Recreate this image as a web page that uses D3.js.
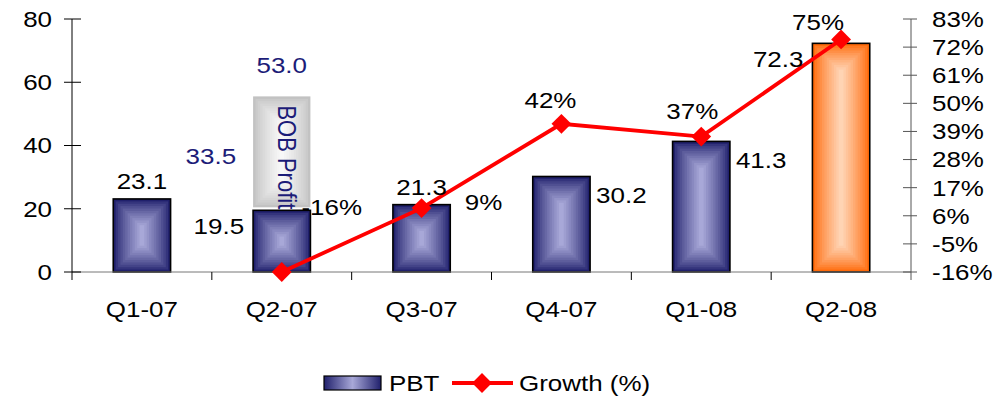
<!DOCTYPE html>
<html>
<head>
<meta charset="utf-8">
<script src="https://cdn.jsdelivr.net/npm/d3@7"></script>
<style>
  body { margin: 0; background: #fff; }
  text { font-family: "Liberation Sans", Arial, sans-serif; }
</style>
</head>
<body>
<svg id="chart"></svg>
<script>
// data
const categories = ['Q1-07', 'Q2-07', 'Q3-07', 'Q4-07', 'Q1-08', 'Q2-08'];
const pbt = [23.1, 19.5, 21.3, 30.2, 41.3, 72.3];
const growth = [null, -16, 9, 42, 37, 75];
const bobIndex = 1;
const bobProfit = 33.5;
const bobTotal = 53.0;
const leftTicks = [0, 20, 40, 60, 80];
const rightTicks = [-16, -5, 6, 17, 28, 39, 50, 61, 72, 83];

// label placement (layout only)
const pbtLabelPos = ['top', 'left', 'top', 'right', 'right', 'left'];
const growthLabelOffset = [null, [50, -65], [62, -6], [-11, -24], [-9, -25], [-23, -17]];

const W = 1003, H = 400;
const mLeft = 72, mRight = 911, mTop = 19, base = 272;
const stretch = 1.18;   // the source picture is a bit wide, text included

const svg = d3.select('#chart').attr('width', W).attr('height', H);
const defs = svg.append('defs');

const x = d3.scaleBand().domain(categories).range([mLeft, mRight]);
const yL = d3.scaleLinear().domain([0, 80]).range([base, mTop]);
const yR = d3.scaleLinear().domain([-16, 83]).range([base, mTop]);
const barW = x.bandwidth() * 0.41;

function label(px, py, str, anchor, fill) {
    return svg.append('text')
        .attr('transform', `translate(${px},${py}) scale(${stretch},1)`)
        .attr('dy', '0.36em')
        .attr('text-anchor', anchor || 'start')
        .attr('font-size', 22)
        .attr('fill', fill || '#000')
        .text(str);
}

// rectangular "from centre" gradient built from nested rects
function boxFill(g, bx, by, bw, bh, edge, centre, steps) {
    const col = d3.interpolateRgb(edge, centre);
    const half = Math.min(bw, bh) / 2;
    for (let i = 0; i < steps; i++) {
        const d = half * i / steps;
        g.append('rect')
            .attr('x', bx + d).attr('y', by + d)
            .attr('width', Math.max(0, bw - 2 * d))
            .attr('height', Math.max(0, bh - 2 * d))
            .attr('fill', col(Math.pow(i / (steps - 1), 0.8)));
    }
}

const plot = svg.append('g');

// BOB profit box (stacked on the Q2-07 bar)
const bx = x(categories[bobIndex]) + (x.bandwidth() - barW) / 2;
const boxTop = yL(bobTotal) - 8, boxBot = yL(pbt[bobIndex]) - 3;
boxFill(plot.append('g'), bx, boxTop, barW, boxBot - boxTop, '#c2c2c2', '#f8f8f8', 12);
plot.append('text')
    .attr('transform', `translate(${bx + barW / 2 - 4},${boxTop + 9}) rotate(90) scale(1,${stretch})`)
    .attr('font-size', 22)
    .attr('fill', '#1c1c78')
    .text('BOB Profit');

// bars
categories.forEach((c, i) => {
    const g = plot.append('g');
    const x0 = x(c) + (x.bandwidth() - barW) / 2;
    const y0 = yL(pbt[i]);
    const last = i === categories.length - 1;
    boxFill(g, x0, y0, barW, base - y0,
        last ? '#ff6a0a' : '#20206c',
        last ? '#ffd4b4' : '#a8a8d8', 12);
    g.append('rect')
        .attr('x', x0).attr('y', y0)
        .attr('width', barW).attr('height', base - y0)
        .attr('fill', 'none').attr('stroke', '#000').attr('stroke-width', 1.6);
});

// axes
const ax = svg.append('g').attr('stroke', '#000').attr('stroke-width', 1);
ax.append('line').attr('x1', mLeft).attr('x2', mRight).attr('y1', base).attr('y2', base).attr('stroke', '#777');
ax.append('line').attr('x1', mLeft).attr('x2', mLeft).attr('y1', yL(80)).attr('y2', base + 8);
ax.append('line').attr('x1', mRight).attr('x2', mRight).attr('y1', yR(83)).attr('y2', base + 8).attr('stroke', '#555');
leftTicks.forEach(t => {
    ax.append('line').attr('x1', mLeft - 8).attr('x2', mLeft + 9).attr('y1', yL(t)).attr('y2', yL(t));
    label(mLeft - 20, yL(t), t, 'end');
});
rightTicks.forEach(t => {
    ax.append('line').attr('x1', mRight - 8).attr('x2', mRight + 6).attr('y1', yR(t)).attr('y2', yR(t)).attr('stroke', '#555');
    label(mRight + 21, yR(t), t + '%', 'start');
});
categories.forEach((c, i) => {
    if (i > 0) ax.append('line').attr('x1', x(c)).attr('x2', x(c)).attr('y1', base).attr('y2', base + 8);
    label(x(c) + x.bandwidth() / 2, base + 37, c, 'middle');
});

// growth line
const pts = growth.map((g, i) => g === null ? null : [x(categories[i]) + x.bandwidth() / 2, yR(g)]).filter(p => p);
svg.append('path')
    .attr('d', d3.line()(pts))
    .attr('fill', 'none').attr('stroke', '#ff0000').attr('stroke-width', 3.8);
svg.selectAll('.dia').data(pts).enter().append('path')
    .attr('d', d3.symbol(d3.symbolDiamond2, 250))
    .attr('transform', d => `translate(${d[0]},${d[1]})`)
    .attr('fill', '#ff0000');

// pbt labels
categories.forEach((c, i) => {
    const cx = x(c) + x.bandwidth() / 2, ty = yL(pbt[i]);
    const s = pbt[i].toFixed(1);
    const pos = pbtLabelPos[i];
    if (pos === 'top') label(cx, ty - 18, s, 'middle');
    else if (pos === 'left') label(cx - barW / 2 - 9, ty + 16, s, 'end');
    else label(cx + barW / 2 + 6, ty + 19, s, 'start');
});

// BOB labels
label(bx + barW / 2, yL(bobTotal) - 39, bobTotal.toFixed(1), 'middle', '#1c1c78');
label(bx - 17, (boxTop + boxBot) / 2 + 4, bobProfit.toFixed(1), 'end', '#1c1c78');

// growth labels
growth.forEach((g, i) => {
    if (g === null) return;
    const o = growthLabelOffset[i];
    label(x(categories[i]) + x.bandwidth() / 2 + o[0], yR(g) + o[1], g + '%', 'middle');
});

// legend
const lg = svg.append('g');
const lgrad = defs.append('linearGradient').attr('id', 'lgBar');
lgrad.append('stop').attr('offset', '0%').attr('stop-color', '#20206c');
lgrad.append('stop').attr('offset', '50%').attr('stop-color', '#a8a8d8');
lgrad.append('stop').attr('offset', '100%').attr('stop-color', '#20206c');
lg.append('rect').attr('x', 324).attr('y', 376).attr('width', 57).attr('height', 14)
    .attr('fill', 'url(#lgBar)').attr('stroke', '#000').attr('stroke-width', 1.2);
label(389, 383, 'PBT', 'start');
lg.append('line').attr('x1', 452).attr('x2', 513).attr('y1', 383).attr('y2', 383)
    .attr('stroke', '#ff0000').attr('stroke-width', 3.8);
lg.append('path').attr('d', d3.symbol(d3.symbolDiamond2, 250))
    .attr('transform', 'translate(482,383)').attr('fill', '#ff0000');
label(519, 383, 'Growth (%)', 'start');
</script>
</body>
</html>
